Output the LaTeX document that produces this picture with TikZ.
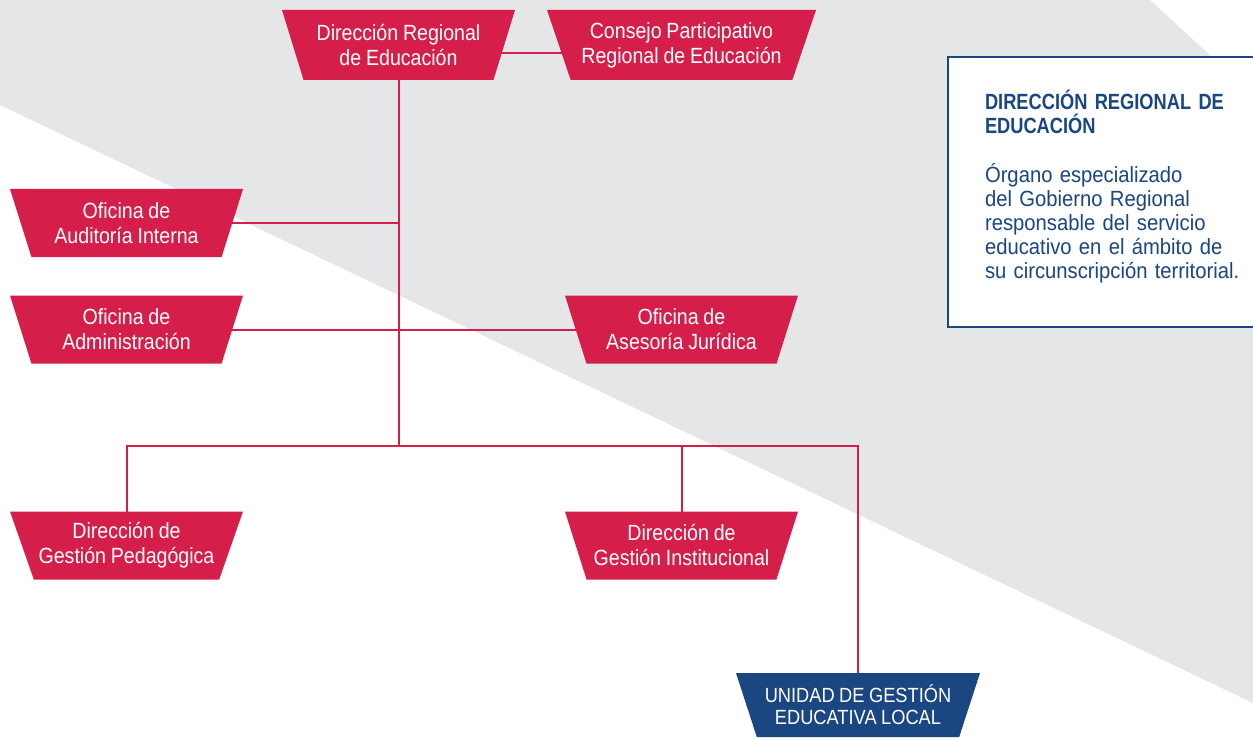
\documentclass[tikz,border=0pt]{standalone}
\usepackage{fontspec}
\setmainfont[FakeStretch=0.89,WordSpace=0.89]{Liberation Sans}
\newfontfamily\infofont[FakeStretch=0.92,WordSpace=0.92]{Liberation Sans}
\newfontfamily\headfont[FakeStretch=0.83,WordSpace=0.83]{Liberation Sans}
\usetikzlibrary{shapes.geometric,backgrounds}

\definecolor{orgred}{HTML}{D51E4A}
\definecolor{orgblue}{HTML}{1A4682}
\definecolor{bggray}{HTML}{E5E6E8}

\tikzset{
  unit/.style={trapezium, shape border rotate=180,
    trapezium left angle=62.5, trapezium right angle=62.5,
    trapezium stretches body, fill=orgred, text=white, align=center,
    inner sep=0pt, minimum width=233pt, minimum height=68pt,
    font=\fontsize{22}{25}\selectfont},
  link/.style={draw=orgred, line width=2pt},
}

\begin{document}
\begin{tikzpicture}[x=1pt,y=-1pt]
  \useasboundingbox (0,0) rectangle (1253,738);

  % grey band
  \begin{scope}[on background layer]
    \fill[bggray] (0,0) -- (1150,0) -- (1253,95) -- (1253,703) -- (0,105) -- cycle;
  \end{scope}

  % units
  \node[unit, minimum height=70pt] (dre) at (398.5,45) {Dirección Regional\\de Educación};
  \node[unit, minimum width=269pt, minimum height=70pt] (cpr) at (681.5,45) {Consejo Participativo\\Regional de Educación};
  \node[unit] (oai) at (126.5,223) {Oficina de\\Auditoría Interna};
  \node[unit] (oa) at (126.5,329.5) {Oficina de\\Administración};
  \node[unit] (oaj) at (681.5,329.5) {Oficina de\\Asesoría Jurídica};
  \node[unit] (dgp) at (126.5,545.5) {Dirección de\\Gestión Pedagógica};
  \node[unit] (dgi) at (681.5,545.5) {Dirección de\\Gestión Institucional};
  \node[unit, fill=orgblue, minimum width=244pt, minimum height=64pt,
    font=\fontsize{20.5}{22}\selectfont] (ugel) at (858,705) {UNIDAD DE GESTIÓN\\EDUCATIVA LOCAL};

  % lines
  \begin{scope}[on background layer]
    \coordinate (bus) at (398.5,446);
    \draw[link] ([yshift=-8pt]dre.center) -- ([yshift=-8pt]cpr.center);
    \draw[link] (dre.center) -- (bus);
    \draw[link] (oai.center) -- (oai.center -| dre.center);
    \draw[link] (oa.center) -- (oaj.center);
    \draw[link] (dgp.center) -- (dgp.center |- bus) -- (ugel.center |- bus) -- (ugel.center);
    \draw[link] (dgi.center) -- (dgi.center |- bus);
  \end{scope}

  % info box
  \node[draw=orgblue, line width=2pt, fill=white, text=orgblue, anchor=north west,
    inner xsep=37pt, text width=280pt, minimum height=270pt, align=left,
    font=\fontsize{22}{24}\selectfont] (info) at (947,56)
    {\headfont\bfseries DIRECCIÓN REGIONAL DE\\EDUCACIÓN\\[25pt]
     \infofont\mdseries Órgano especializado\\del Gobierno Regional\\responsable del servicio\\educativo en el ámbito de\\su circunscripción territorial.\rule[-15pt]{0pt}{1pt}};
\end{tikzpicture}
\end{document}
